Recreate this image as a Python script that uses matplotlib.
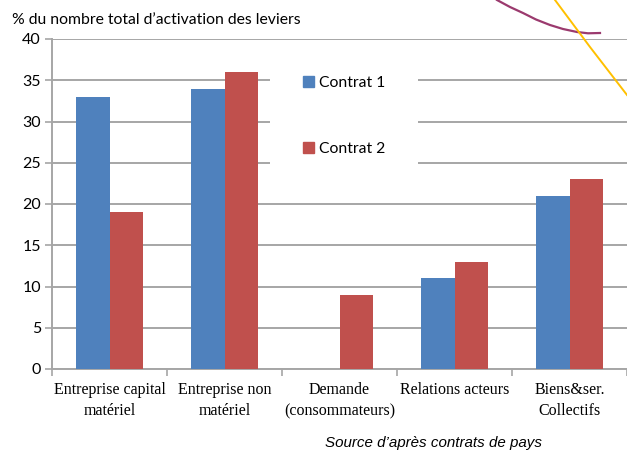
import matplotlib.pyplot as plt
from matplotlib.patches import Patch
from matplotlib.lines import Line2D
import numpy as np

# data
categories = ["Entreprise capital\nmatériel", "Entreprise non\nmatériel",
              "Demande\n(consommateurs)", "Relations acteurs", "Biens&ser.\nCollectifs"]
contrat1 = [33, 34, 0, 11, 21]
contrat2 = [19, 36, 9, 13, 23]
series_names = ["Contrat 1", "Contrat 2"]
yticks = [0, 5, 10, 15, 20, 25, 30, 35, 40]

blue = "#4F81BD"
red = "#C0504D"
grid_col = "#A6A6A6"

W, H = 627, 450
fig = plt.figure(figsize=(W / 100, H / 100), dpi=100)
ax = fig.add_axes([52 / W, 1 - 369 / H, 1 - 52 / W, (369 - 39) / H])

x = np.arange(len(categories))
bw = 0.287
ax.bar(x - bw / 2, contrat1, bw, color=blue, zorder=3)
ax.bar(x + bw / 2, contrat2, bw, color=red, zorder=3)

ax.set_xlim(-0.5, len(categories) - 0.5)
ax.set_ylim(0, 40)
ax.set_yticks(yticks)
ax.set_xticks(np.arange(len(categories) + 1) - 0.5)
ax.set_xticklabels([])
ax.set_xticks(x, minor=True)
ax.set_xticklabels(categories, minor=True, family="Liberation Serif", fontsize=11.5,
                   linespacing=1.45)
ax.tick_params(axis="x", which="minor", length=0, pad=9)
ax.tick_params(axis="x", which="major", length=5, color=grid_col, width=1.2)
ax.tick_params(axis="y", length=5, color=grid_col, width=1.2, pad=3)
for lab in ax.get_yticklabels():
    lab.set_family("Lato")
    lab.set_fontsize(11.5)

ax.yaxis.grid(True, color=grid_col, linewidth=1.4, zorder=0)
ax.set_axisbelow(True)
for s in ["top", "right"]:
    ax.spines[s].set_visible(False)
for s in ["left", "bottom"]:
    ax.spines[s].set_color(grid_col)
    ax.spines[s].set_linewidth(1.4)

handles = [Patch(color=blue), Patch(color=red)]
leg = fig.legend(handles, series_names, loc="upper left",
                 bbox_to_anchor=(262 / W, 1 - 35 / H),
                 prop={"family": "Lato", "size": 11.3},
                 frameon=True, facecolor="white", edgecolor="none", framealpha=1,
                 borderpad=2.1, labelspacing=3.35, handlelength=0.7, handleheight=0.7,
                 handletextpad=0.35, fancybox=False)
leg.set_zorder(5)

fig.text(12 / W, 1 - 20 / H, "% du nombre total d\u2019activation des leviers",
         family="Lato", fontsize=11.3, va="center", ha="left")
fig.text(325 / W, 1 - 443 / H, "Source d\u2019après contrats de pays",
         family="Liberation Sans", style="italic", fontsize=10.9, va="center", ha="left")

# decorative strokes from the page behind the chart
purple_x = [497, 510, 523, 536, 550, 563, 577, 588, 600]
purple_y = [0, 7, 13, 19.5, 25, 29, 32, 33.3, 33]
yellow_x = [555, 590, 627]
yellow_y = [0, 47, 95]
fig.add_artist(Line2D([v / W for v in purple_x], [1 - v / H for v in purple_y],
                      color="#9B3A6E", linewidth=1.6, zorder=6, solid_joinstyle="round"))
fig.add_artist(Line2D([v / W for v in yellow_x], [1 - v / H for v in yellow_y],
                      color="#FFC000", linewidth=1.4, zorder=6))

fig.savefig("out.png", dpi=100)
